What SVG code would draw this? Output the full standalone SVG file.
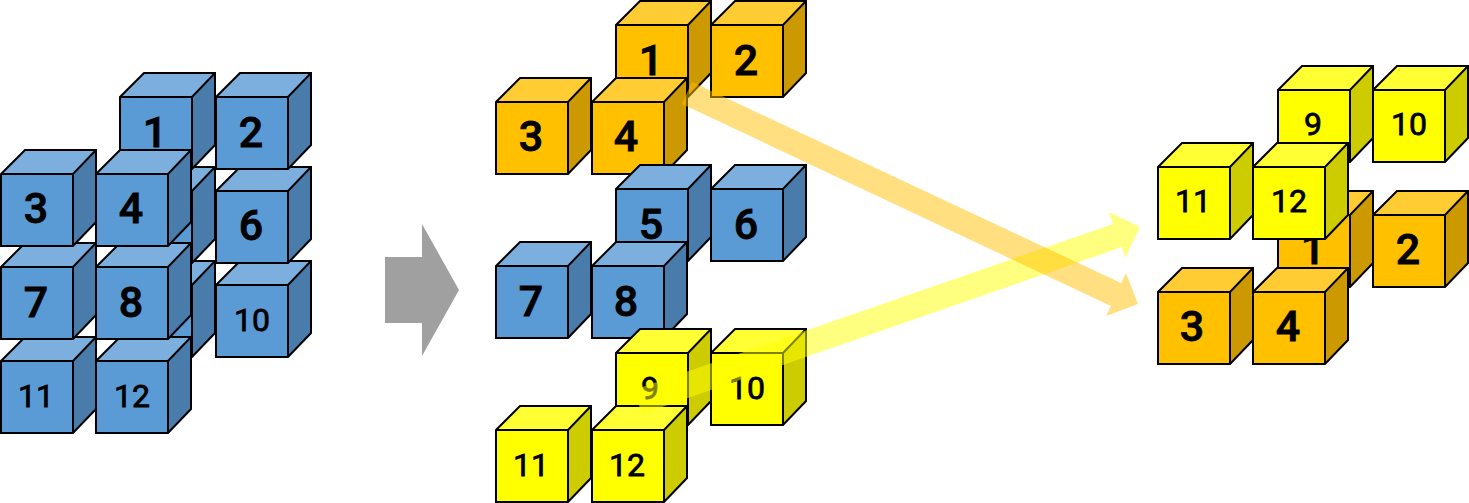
<svg xmlns="http://www.w3.org/2000/svg" width="1469" height="503" viewBox="0 0 1469 503">
<style>
.f{fill:var(--f)}.t{fill:var(--t)}.s{fill:var(--s)}
.e{fill:none;stroke:#000;stroke-width:2;stroke-linejoin:miter}
.b{--f:#5b9bd5;--t:#7cafdd;--s:#497cab}
.o{--f:#ffc000;--t:#ffcd33;--s:#cc9a00}
.y{--f:#ffff00;--t:#ffff33;--s:#cccc00}
text{font-family:Roboto,"Liberation Sans",sans-serif;text-anchor:middle;fill:#000;stroke:#000}
.l{font-size:43px;font-weight:500;stroke-width:.8px}.m{font-size:32px;font-weight:400;stroke-width:.8px}
</style>
<defs>
<g id="c">
<rect class="f" x="0" y="24" width="72" height="72"/>
<path class="t" d="M0 24L24 0H95L72 24Z"/>
<path class="s" d="M72 24L95 0V72L72 96Z"/>
<path class="e" d="M0 24L24 0H95V72L72 96H0ZM0 24H72L95 0M72 24V96"/>
</g>
</defs>
<g id="left">
<g id="l9" class="b"><use href="#c" x="120" y="261"/></g>
<g id="l10" class="b"><use href="#c" x="216" y="261"/><text class="m" x="252" y="331">10</text></g>
<g id="l5" class="b"><use href="#c" x="120" y="167"/></g>
<g id="l6" class="b"><use href="#c" x="216" y="167"/><text class="l" x="251" y="240">6</text></g>
<g id="l1" class="b"><use href="#c" x="120" y="73"/><text class="l" x="155" y="147">1</text></g>
<g id="l2" class="b"><use href="#c" x="216" y="73"/><text class="l" x="251" y="147">2</text></g>
<g id="l11" class="b"><use href="#c" x="1" y="337"/><text class="m" x="36" y="407">11</text></g>
<g id="l12" class="b"><use href="#c" x="96" y="337"/><text class="m" x="132" y="407">12</text></g>
<g id="l7" class="b"><use href="#c" x="1" y="243"/><text class="l" x="36" y="317">7</text></g>
<g id="l8" class="b"><use href="#c" x="96" y="243"/><text class="l" x="131" y="317">8</text></g>
<g id="l3" class="b"><use href="#c" x="1" y="150"/><text class="l" x="36" y="223">3</text></g>
<g id="l4" class="b"><use href="#c" x="96" y="150"/><text class="l" x="131" y="223">4</text></g>
</g>
<path id="big-arrow" fill="#a0a0a0" d="M385 257H422V224L459 290L422 356V323H385Z"/>
<g id="middle">
<g id="m1" class="o"><use href="#c" x="616" y="1"/><text class="l" x="651" y="75">1</text></g>
<g id="m2" class="o"><use href="#c" x="711" y="1"/><text class="l" x="746" y="75">2</text></g>
<g id="m3" class="o"><use href="#c" x="496" y="78"/><text class="l" x="531" y="151">3</text></g>
<g id="m4" class="o"><use href="#c" x="592" y="78"/><text class="l" x="626" y="151">4</text></g>
<g id="m5" class="b"><use href="#c" x="616" y="165"/><text class="l" x="651" y="239">5</text></g>
<g id="m6" class="b"><use href="#c" x="711" y="165"/><text class="l" x="746" y="239">6</text></g>
<g id="m7" class="b"><use href="#c" x="496" y="242"/><text class="l" x="531" y="316">7</text></g>
<g id="m8" class="b"><use href="#c" x="592" y="242"/><text class="l" x="626" y="316">8</text></g>
<g id="m9" class="y"><use href="#c" x="616" y="329"/><text class="m" x="650" y="399">9</text></g>
<g id="m10" class="y"><use href="#c" x="711" y="329"/><text class="m" x="747" y="399">10</text></g>
<g id="m11" class="y"><use href="#c" x="496" y="406"/><text class="m" x="531" y="476">11</text></g>
<g id="m12" class="y"><use href="#c" x="592" y="406"/><text class="m" x="627" y="476">12</text></g>
</g>
<g id="right">
<g id="r9" class="y"><use href="#c" x="1278" y="66"/><text class="m" x="1313" y="135">9</text></g>
<g id="r10" class="y"><use href="#c" x="1373" y="66"/><text class="m" x="1409" y="135">10</text></g>
<g id="r1" class="o"><use href="#c" x="1278" y="191"/><text class="l" x="1313" y="264">1</text></g>
<g id="r2" class="o"><use href="#c" x="1373" y="191"/><text class="l" x="1408" y="264">2</text></g>
<g id="r11" class="y"><use href="#c" x="1158" y="143"/><text class="m" x="1193" y="212">11</text></g>
<g id="r12" class="y"><use href="#c" x="1253" y="143"/><text class="m" x="1289" y="212">12</text></g>
<g id="r3" class="o"><use href="#c" x="1158" y="268"/><text class="l" x="1192" y="341">3</text></g>
<g id="r4" class="o"><use href="#c" x="1253" y="268"/><text class="l" x="1288" y="341">4</text></g>
</g>
<g id="connectors">
<path fill="#ffff00" fill-opacity=".5" d="M634 390L1113 224L1109 212L1140 227L1125 258L1122 247L642 414Z"/>
<path fill="#ffc000" fill-opacity=".5" d="M692 82L1121 283L1126 273L1138 304L1106 316L1111 306L682 104Z"/>
</g>
</svg>
